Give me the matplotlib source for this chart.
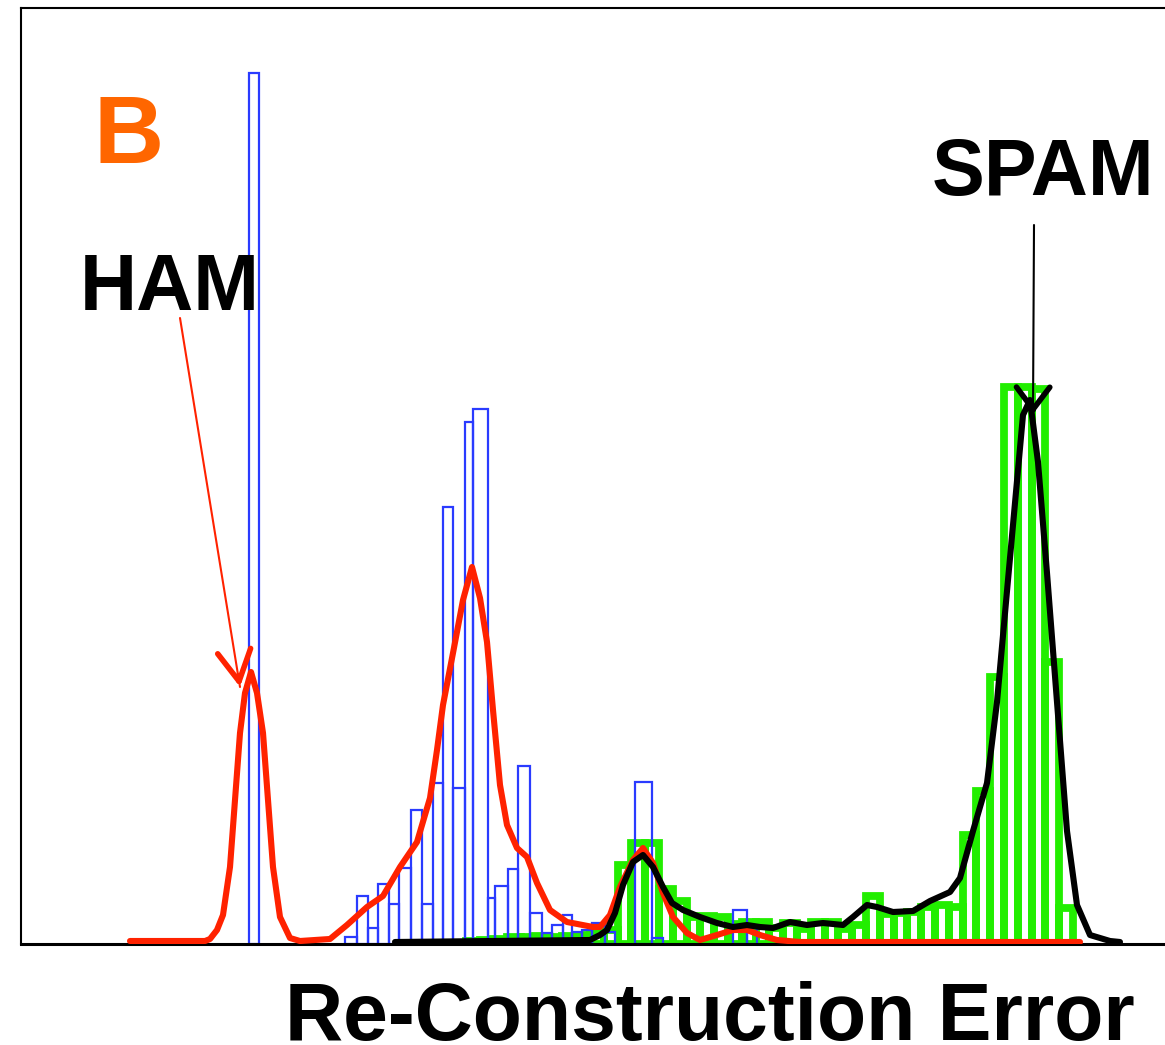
import matplotlib.pyplot as plt
import numpy as np

# ham reconstruction error histogram (blue outline bars)
ham_edges = [2.49, 2.59, 3.45, 3.57, 3.68, 3.78, 3.89, 3.99, 4.11, 4.22, 4.33, 4.43,
             4.53, 4.65, 4.73, 4.88, 4.95, 5.08, 5.18, 5.30, 5.42, 5.52, 5.63, 5.72,
             5.82, 5.92, 6.05, 6.15, 6.35, 6.52, 6.63, 7.33, 7.47, 7.57]
ham_counts = [87.1, 0, 0.7, 4.8, 1.6, 6.0, 4.0, 7.6, 13.4, 4.0, 16.1, 43.7,
              15.6, 52.2, 53.5, 4.6, 5.8, 7.5, 17.8, 3.1, 1.1, 1.9, 2.9,
              1.2, 1.4, 2.1, 1.2, 0, 16.2, 0.6, 0, 3.4, 1.6]

# spam reconstruction error histogram (green bars)
spam_edges = np.linspace(4.658, 10.730, 45)
spam_counts = [0.3, 0.4, 0.5, 0.7, 0.7, 0.8, 0.7, 0.8, 0.9, 1.1, 1.4,
               7.9, 10.1, 10.1, 5.5, 4.3, 2.7, 2.8, 2.7, 2.0, 2.2, 2.2,
               1.6, 2.1, 1.5, 2.2, 2.2, 1.5, 1.9, 4.8, 3.0, 3.1, 3.2,
               3.7, 3.9, 3.7, 10.9, 15.3, 26.7, 55.7, 55.7, 55.5, 28.2, 3.6]

# density curves
ham_kde_x = [1.30, 2.05, 2.10, 2.17, 2.23, 2.30, 2.35, 2.40, 2.45, 2.51,
             2.57, 2.63, 2.68, 2.73, 2.80, 2.90, 3.00, 3.30, 3.47, 3.67,
             3.83, 4.00, 4.17, 4.30, 4.37, 4.43, 4.53, 4.63, 4.72, 4.80,
             4.87, 4.93, 5.00, 5.07, 5.17, 5.27, 5.37, 5.50, 5.67, 5.93,
             6.00, 6.10, 6.20, 6.33, 6.43, 6.53, 6.63, 6.73, 6.87, 7.00,
             7.17, 7.33, 7.47, 7.60, 7.77, 8.00, 10.80]
ham_kde_y = [0.3, 0.3, 0.5, 1.4, 2.9, 7.7, 14.4, 21.1, 25.1, 27.2,
             25.1, 21.1, 14.4, 7.7, 2.7, 0.6, 0.3, 0.5, 1.9, 3.7,
             4.8, 7.7, 10.2, 14.6, 19.4, 23.9, 29.1, 34.4, 37.7, 34.6,
             30.2, 23.4, 15.9, 11.9, 9.6, 8.7, 6.1, 3.4, 2.2, 1.7,
             1.7, 2.9, 5.7, 8.4, 9.6, 8.1, 5.1, 2.7, 1.1, 0.4,
             0.9, 1.4, 1.4, 0.9, 0.4, 0.2, 0.2]

spam_kde_x = [3.95, 5.90, 6.00, 6.07, 6.15, 6.23, 6.33, 6.43, 6.53, 6.63,
              6.72, 6.83, 7.00, 7.17, 7.33, 7.47, 7.60, 7.73, 7.90, 8.07,
              8.23, 8.43, 8.53, 8.67, 8.77, 8.93, 9.13, 9.30, 9.50, 9.60,
              9.73, 9.87, 9.97, 10.07, 10.17, 10.23, 10.30, 10.38, 10.47, 10.57,
              10.67, 10.77, 10.90, 11.10, 11.20]
spam_kde_y = [0.2, 0.4, 0.9, 1.4, 3.1, 5.9, 8.2, 8.9, 7.7, 5.7,
              4.1, 3.4, 2.7, 2.1, 1.7, 1.9, 1.7, 1.6, 2.2, 1.9,
              2.1, 1.9, 2.7, 3.9, 3.7, 3.2, 3.3, 4.3, 5.2, 6.6,
              11.3, 16.1, 24.2, 35.3, 46.3, 52.9, 54.4, 48.2, 37.1, 24.2,
              11.3, 3.9, 0.9, 0.3, 0.2]

plt.rcParams['font.family'] = ['Liberation Sans', 'DejaVu Sans']

fig = plt.figure(figsize=(11.65, 10.45), dpi=100)
ax = fig.add_axes([21 / 1165, 101 / 1045, (1185 - 21) / 1165, 936 / 1045])

ham_edges = np.array(ham_edges)
ham_counts = np.array(ham_counts)
keep = ham_counts > 0
ax.bar(ham_edges[:-1][keep], ham_counts[keep], width=np.diff(ham_edges)[keep],
       align='edge', fill=False, edgecolor='#2a3bff', linewidth=1.6, zorder=2)

ax.bar(spam_edges[:-1], spam_counts, width=np.diff(spam_edges), align='edge',
       fill=False, edgecolor='#22ee00', linewidth=5.6, zorder=1)

ax.plot(ham_kde_x, ham_kde_y, color='#ff2200', lw=4.4, zorder=3,
        solid_capstyle='round', solid_joinstyle='round')
ax.plot(spam_kde_x, spam_kde_y, color='black', lw=4.4, zorder=4,
        solid_capstyle='round', solid_joinstyle='round')

# labels and arrows
ax.text(0.93, 78.1, 'B', color='#ff6600', fontsize=70, fontweight='bold')
ax.text(0.80, 63.4, 'HAM', color='black', fontsize=57, fontweight='bold')
ax.text(9.32, 74.9, 'SPAM', color='black', fontsize=57, fontweight='bold')

ham_tip = np.array([2.40, 25.7])
ham_tail = np.array([1.80, 62.6])
ax.annotate('', xy=ham_tip, xytext=ham_tail,
            arrowprops=dict(arrowstyle='-', color='#ff2200', lw=1.5,
                            shrinkA=0, shrinkB=0), zorder=5)
ax.annotate('', xy=ham_tip, xytext=ham_tip + 0.03 * (ham_tail - ham_tip),
            arrowprops=dict(arrowstyle='->,head_length=1.1,head_width=0.6',
                            color='#ff2200', lw=4, mutation_scale=20,
                            shrinkA=0, shrinkB=0), zorder=5)

spam_tip = np.array([10.33, 53.0])
spam_tail = np.array([10.34, 71.9])
ax.annotate('', xy=spam_tip, xytext=spam_tail,
            arrowprops=dict(arrowstyle='-', color='black', lw=1.5,
                            shrinkA=0, shrinkB=0), zorder=5)
ax.annotate('', xy=spam_tip, xytext=spam_tip + 0.03 * (spam_tail - spam_tip),
            arrowprops=dict(arrowstyle='->,head_length=0.8,head_width=0.6',
                            color='black', lw=4, mutation_scale=20,
                            shrinkA=0, shrinkB=0), zorder=5)

ax.set_xlim(0.21, 11.85)
ax.set_ylim(0, 93.6)
ax.set_xticks([])
ax.set_yticks([])
for s in ax.spines.values():
    s.set_linewidth(1.5)
ax.spines['bottom'].set_linewidth(2.2)

fig.text(710 / 1165, 5 / 1045, 'Re-Construction Error', ha='center', va='baseline',
         fontsize=58, fontweight='bold')

fig.savefig('out.png', dpi=100)
